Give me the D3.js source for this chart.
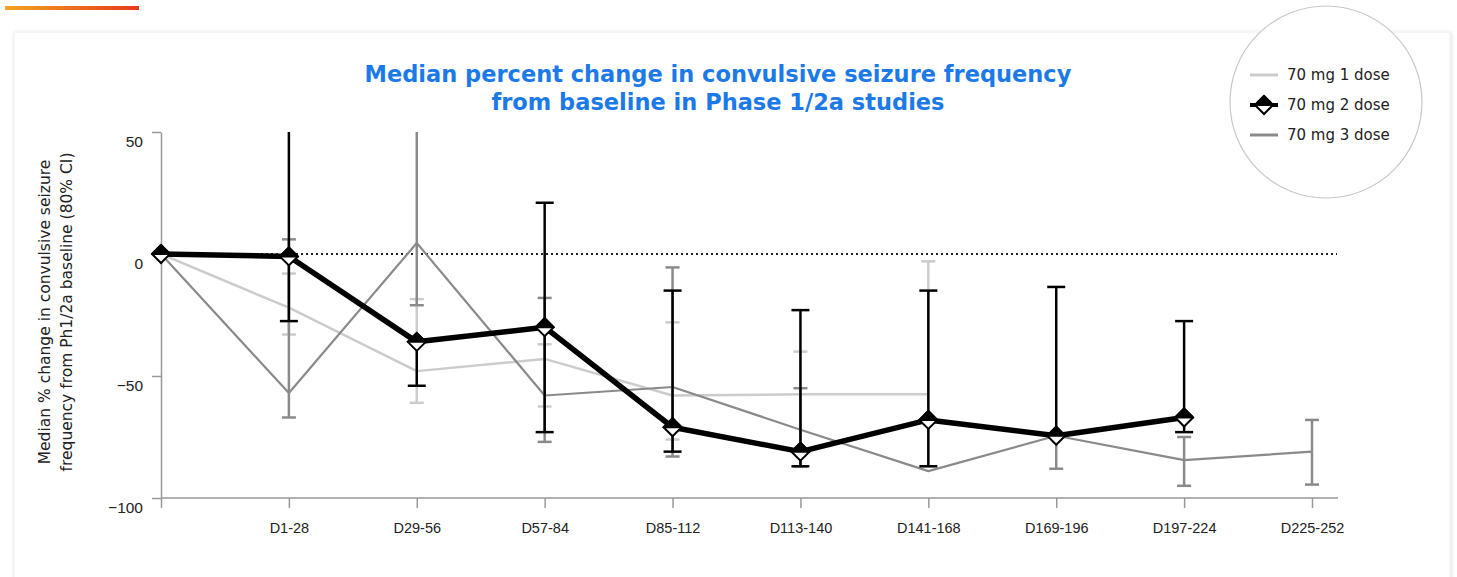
<!DOCTYPE html>
<html>
<head>
<meta charset="utf-8">
<script src="https://cdn.jsdelivr.net/npm/d3@7"></script>
<style>
  body { margin: 0; background: #fff; }
  svg { display: block; font-family: "DejaVu Sans", Verdana, sans-serif; }
</style>
</head>
<body>
<svg width="1457" height="577"></svg>
<script>
// categories and values (null = not shown)
var categories = ["Baseline", "D1-28", "D29-56", "D57-84", "D85-112", "D113-140", "D141-168", "D169-196", "D197-224", "D225-252"];
var yTicks = [50, 0, -50, -100];

var dose1   = [0, -22, -48, -43, -58, -57.5, -57.5, null, null, null];
var dose1Lo = [null, -33, -61, -62.5, -76, -87, -87, null, null, null];
var dose1Hi = [null, -8, -18.5, -37, -28, -40, -3, null, null, null];

var dose2   = [0, -1, -36, -30, -71, -81, -68, -74.5, -67, null];
var dose2Lo = [null, -27.5, -54, -73, -81, -87, -87, null, -73, null];
var dose2Hi = [null, 60, null, 21, -15, -23, -15, -13.5, -27.5, null];

var dose3   = [0, -57, 4.5, -58, -54.5, -72, -89, -74.5, -84.5, -81];
var dose3Lo = [null, -67, -21, -77, -83, -87, null, -88, -95, -94.5];
var dose3Hi = [null, 6, 60, -18, -5.5, -55, null, null, -75, -68];

var legendNames = ["70 mg 1 dose", "70 mg 2 dose", "70 mg 3 dose"];

var svg = d3.select("svg");

// card + shadow
var defs = svg.append("defs");
var f = defs.append("filter").attr("id", "shadow").attr("x", "-5%").attr("y", "-5%").attr("width", "110%").attr("height", "110%");
f.append("feDropShadow").attr("dx", 1).attr("dy", 1).attr("stdDeviation", 2).attr("flood-color", "#000").attr("flood-opacity", 0.12);
var grad = defs.append("linearGradient").attr("id", "bar");
grad.append("stop").attr("offset", "0%").attr("stop-color", "#f2a51f");
grad.append("stop").attr("offset", "100%").attr("stop-color", "#e8391d");

svg.append("rect").attr("x", 5).attr("y", 6).attr("width", 134).attr("height", 4).attr("fill", "url(#bar)");
svg.append("rect").attr("x", 14).attr("y", 32).attr("width", 1436).attr("height", 560)
    .attr("fill", "#fff").attr("stroke", "#eeeeee").attr("filter", "url(#shadow)");

// title
var title = svg.append("text").attr("text-anchor", "middle").attr("fill", "#1c7ae8")
    .style("font-weight", "bold").style("font-size", "22.5px");
title.append("tspan").attr("x", 718).attr("y", 82).text("Median percent change in convulsive seizure frequency");
title.append("tspan").attr("x", 718).attr("y", 110).text("from baseline in Phase 1/2a studies");

var x = d3.scalePoint().domain(categories).range([161, 1312]);
var y = d3.scaleLinear().domain([-100, 50]).range([498, 132]);

// y axis
var yAxis = svg.append("g").attr("transform", "translate(161,0)")
    .call(d3.axisLeft(y).tickValues(yTicks).tickSize(9).tickSizeOuter(0));
yAxis.select(".domain").attr("stroke", "#999").attr("stroke-width", 1.5);
yAxis.selectAll(".tick line").attr("stroke", "#999").attr("stroke-width", 1.5);
yAxis.selectAll(".tick text").attr("fill", "#222").style("font-size", "15.5px")
    .attr("x", -18).attr("dy", "0.95em");

// x axis
var xAxis = svg.append("g").attr("transform", "translate(0,498)")
    .call(d3.axisBottom(x).tickSize(10).tickSizeOuter(0)
      .tickFormat(function (d) { return d === "Baseline" ? "" : d; }));
xAxis.select(".domain").attr("d", "M161,0H1338").attr("stroke", "#999").attr("stroke-width", 1.5);
xAxis.selectAll(".tick line").attr("stroke", "#999").attr("stroke-width", 1.5);
xAxis.selectAll(".tick text").attr("fill", "#222").style("font-size", "14.5px").attr("y", 25);

// y axis title
var yt = svg.append("text").attr("transform", "translate(50,312) rotate(-90)")
    .attr("text-anchor", "middle").attr("fill", "#222").style("font-size", "15.5px");
yt.append("tspan").attr("x", 0).attr("y", 0).text("Median % change in convulsive seizure");
yt.append("tspan").attr("x", 0).attr("y", 22).text("frequency from Ph1/2a baseline (80% CI)");

// zero reference
svg.append("line").attr("x1", 161).attr("x2", 1337).attr("y1", y(0)).attr("y2", y(0))
    .attr("stroke", "#222").attr("stroke-width", 2).attr("stroke-dasharray", "2,3");

function rows(vals, lo, hi) {
  return categories.map(function (c, i) { return {c: c, v: vals[i], lo: lo[i], hi: hi[i]}; });
}

function drawSeries(data, color, lw, bw, cap) {
  var g = svg.append("g");
  var top = y.domain()[1];
  data.forEach(function (d) {
    if (d.v === null) return;
    var cx = x(d.c);
    [d.lo, d.hi].forEach(function (e) {
      if (e === null) return;
      g.append("line").attr("x1", cx).attr("x2", cx)
          .attr("y1", y(d.v)).attr("y2", y(Math.min(e, top)))
          .attr("stroke", color).attr("stroke-width", bw);
      if (e <= top) {
        g.append("line").attr("x1", cx - cap / 2).attr("x2", cx + cap / 2)
            .attr("y1", y(e)).attr("y2", y(e))
            .attr("stroke", color).attr("stroke-width", bw);
      }
    });
  });
  var line = d3.line().defined(function (d) { return d.v !== null; })
      .x(function (d) { return x(d.c); }).y(function (d) { return y(d.v); });
  g.append("path").datum(data).attr("d", line).attr("fill", "none")
      .attr("stroke", color).attr("stroke-width", lw).attr("stroke-linejoin", "round");
  return g;
}

function diamond(g, cx, cy) {
  g.append("path").attr("d", "M" + cx + "," + (cy - 9) + "L" + (cx + 9) + "," + cy + "L" + cx + "," + (cy + 9) + "L" + (cx - 9) + "," + cy + "Z")
      .attr("fill", "#fff").attr("stroke", "#000").attr("stroke-width", 2);
  g.append("path").attr("d", "M" + cx + "," + (cy - 9) + "L" + (cx + 9) + "," + cy + "L" + (cx - 9) + "," + cy + "Z")
      .attr("fill", "#000").attr("stroke", "#000").attr("stroke-width", 2).attr("stroke-linejoin", "round");
}

drawSeries(rows(dose1, dose1Lo, dose1Hi), "#cccccc", 2.5, 2.5, 14);
drawSeries(rows(dose3, dose3Lo, dose3Hi), "#8a8a8a", 2.2, 2.5, 14);
var g2 = drawSeries(rows(dose2, dose2Lo, dose2Hi), "#000", 5.5, 2.5, 18);
rows(dose2, dose2Lo, dose2Hi).forEach(function (d) {
  if (d.v !== null) diamond(g2, x(d.c), y(d.v));
});

// legend
var lg = svg.append("g");
lg.append("circle").attr("cx", 1326).attr("cy", 102).attr("r", 96)
    .attr("fill", "#fff").attr("stroke", "#c8c8c8").attr("stroke-width", 1.2);
var lcol = ["#cccccc", "#000", "#8a8a8a"];
legendNames.forEach(function (n, i) {
  var ly = 75 + i * 30;
  lg.append("line").attr("x1", 1250).attr("x2", 1278).attr("y1", ly).attr("y2", ly)
      .attr("stroke", lcol[i]).attr("stroke-width", i === 1 ? 4 : 3);
  if (i === 1) diamond(lg, 1264, ly);
  lg.append("text").attr("x", 1287).attr("y", ly + 5).attr("fill", "#222")
      .style("font-size", "15px").text(n);
});
</script>
</body>
</html>
